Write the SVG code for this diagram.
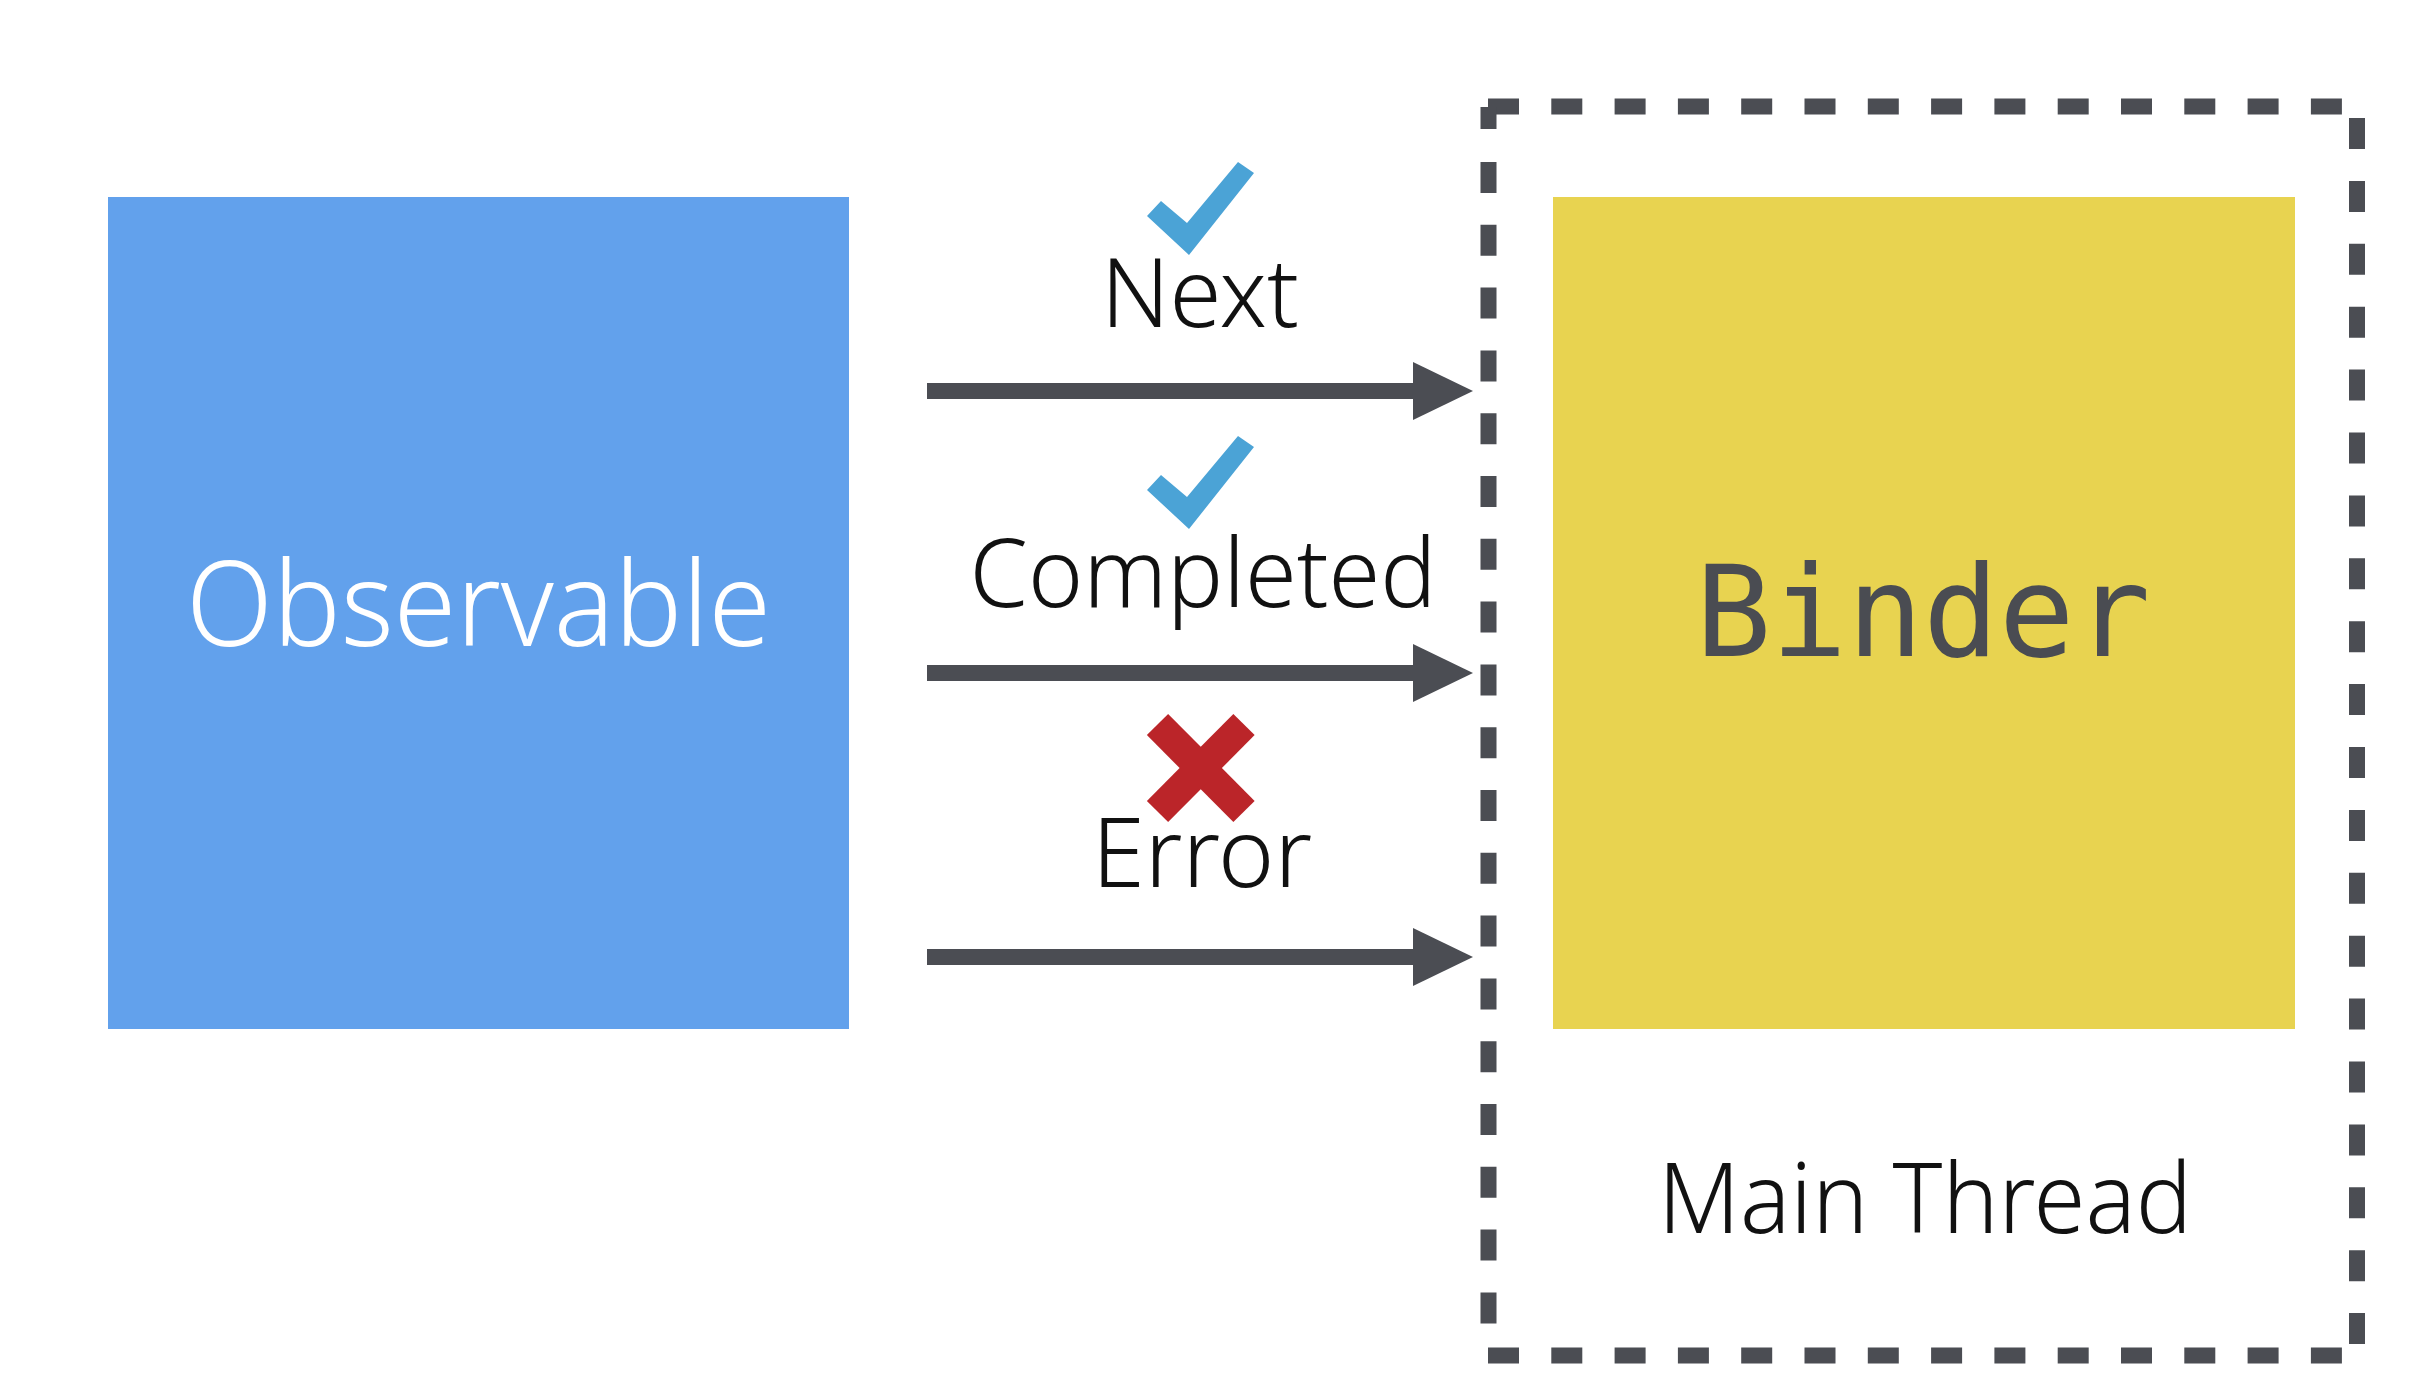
<svg xmlns="http://www.w3.org/2000/svg" width="2416" height="1384" viewBox="0 0 2416 1384">
  <style>
    .lbl { font-family: "Noto Sans", "Open Sans", sans-serif; font-weight: 350; fill: #111111; text-anchor: middle; }
    .dash { stroke: #4b4d53; stroke-width: 16; fill: none; }
    .conn { stroke: #4b4d53; stroke-width: 16; fill: none; }
    .check { fill: #4ba3d6; }
  </style>
  <defs>
    <marker id="arrow" markerUnits="userSpaceOnUse" markerWidth="60" markerHeight="58" refX="0" refY="29" orient="auto">
      <path d="M0,0 L60,29 L0,58 Z" fill="#4b4d53"/>
    </marker>
    <polygon id="tick" points="0,0 14,-15 40,7 91,-54 107,-43 42,39"/>
  </defs>
  <rect width="2416" height="1384" fill="#ffffff"/>

  <g id="node-observable">
    <rect x="108" y="197" width="741" height="832" fill="#62a1ec"/>
    <text x="478.5" y="646" font-family="Noto Sans, Open Sans, sans-serif" font-weight="320" font-size="118" fill="#ffffff" text-anchor="middle" textLength="585" lengthAdjust="spacingAndGlyphs">Observable</text>
  </g>

  <g id="node-main-thread">
    <line class="dash" x1="1488" y1="106.5" x2="2342" y2="106.5" stroke-dasharray="31 32.3"/>
    <line class="dash" x1="1488" y1="1355.5" x2="2342" y2="1355.5" stroke-dasharray="31 32.3"/>
    <line class="dash" x1="1488.5" y1="107" x2="1488.5" y2="129"/>
    <line class="dash" x1="1488.5" y1="162" x2="1488.5" y2="1324" stroke-dasharray="31 31.8"/>
    <line class="dash" x1="2357" y1="118" x2="2357" y2="1344" stroke-dasharray="31 31.9"/>
    <text class="lbl" x="1925" y="1233" font-size="97" textLength="534" lengthAdjust="spacingAndGlyphs">Main Thread</text>
  </g>

  <g id="node-binder">
    <rect x="1553" y="197" width="742" height="832" fill="#e8d350"/>
    <text x="1923" y="656" font-family="DejaVu Sans Mono, Liberation Mono, monospace" font-size="126" fill="#4a4c52" text-anchor="middle">Binder</text>
  </g>

  <g id="connectors">
    <g id="edge-next">
      <line class="conn" x1="927" y1="391" x2="1413" y2="391" marker-end="url(#arrow)"/>
      <use href="#tick" x="1147" y="216" class="check"/>
      <text class="lbl" x="1200" y="327" font-size="95" textLength="198" lengthAdjust="spacingAndGlyphs">Next</text>
    </g>
    <g id="edge-completed">
      <line class="conn" x1="927" y1="673" x2="1413" y2="673" marker-end="url(#arrow)"/>
      <use href="#tick" x="1147" y="490" class="check"/>
      <text class="lbl" x="1203" y="607" font-size="95" textLength="467" lengthAdjust="spacingAndGlyphs">Completed</text>
    </g>
    <g id="edge-error">
      <line class="conn" x1="927" y1="957" x2="1413" y2="957" marker-end="url(#arrow)"/>
      <g stroke="#bb2529" stroke-width="30">
        <line x1="1157.5" y1="724.5" x2="1244" y2="811.5"/>
        <line x1="1244" y1="724.5" x2="1157.5" y2="811.5"/>
      </g>
      <text class="lbl" x="1202" y="887" font-size="95" textLength="220" lengthAdjust="spacingAndGlyphs">Error</text>
    </g>
  </g>
</svg>
